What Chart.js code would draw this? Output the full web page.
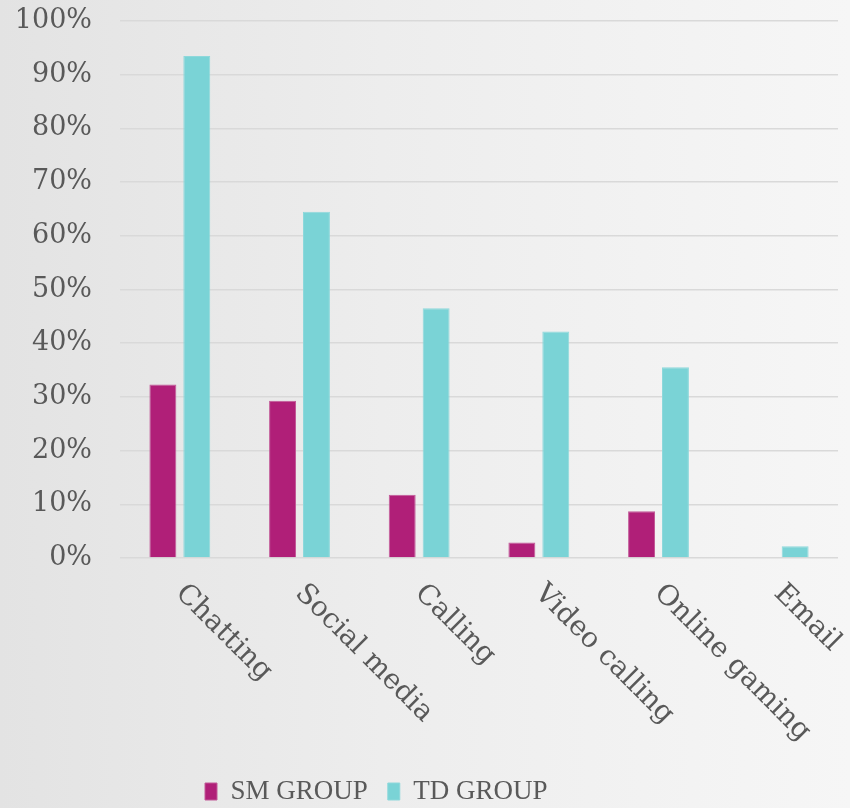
<!DOCTYPE html>
<html>
<head>
<meta charset="utf-8">
<script src="https://cdn.jsdelivr.net/npm/chart.js@4.4.0/dist/chart.umd.min.js"></script>
<style>
  html, body { margin: 0; padding: 0; }
  body { width: 850px; height: 808px; background: linear-gradient(to right, #e3e3e3 0%, #ededed 45%, #f6f6f6 100%); }
  #wrap { position: relative; width: 850px; height: 808px; }
</style>
</head>
<body>
<div id="wrap"><canvas id="c"></canvas></div>
<script>
const categories = ["Chatting", "Social media", "Calling", "Video calling", "Online gaming", "Email"];
const smGroup = [32.3, 29.3, 11.8, 2.9, 8.7, 0];
const tdGroup = [93.5, 64.5, 46.5, 42.2, 35.5, 2.2];
const yTicks = [0, 10, 20, 30, 40, 50, 60, 70, 80, 90, 100];

const serif = "'DejaVu Serif', 'Liberation Serif', serif";
const textColor = '#595959';

const rotatedLabels = {
  id: 'rotatedLabels',
  afterDraw(chart) {
    const ctx = chart.ctx;
    const xs = chart.scales.x;
    const top = chart.chartArea.bottom;
    ctx.save();
    ctx.font = "28px " + serif;
    ctx.fillStyle = textColor;
    ctx.textAlign = 'left';
    ctx.textBaseline = 'middle';
    categories.forEach((lab, i) => {
      const x = xs.getPixelForValue(i);
      ctx.save();
      ctx.translate(x, top + 31);
      ctx.rotate(Math.PI / 4);
      ctx.fillText(lab, 0, 0);
      ctx.restore();
    });
    ctx.restore();
  }
};

const placeLegend = {
  id: 'placeLegend',
  afterLayout(chart) {
    const lg = chart.legend;
    if (!lg) return;
    const p = lg.options.labels.padding;
    const w = lg.right - lg.left;
    lg.left = 205 - p;
    lg.right = lg.left + w;
    const h = lg.bottom - lg.top;
    lg.top = 758;
    lg.bottom = lg.top + h;
  }
};

new Chart(document.getElementById('c'), {
  type: 'bar',
  data: {
    labels: categories,
    datasets: [
      { label: 'SM GROUP', data: smGroup, backgroundColor: '#B01F78', borderColor: '#C25A98', borderWidth: 1,
        categoryPercentage: 0.567, barPercentage: 0.794 },
      { label: 'TD GROUP', data: tdGroup, backgroundColor: '#7AD3D6', borderColor: '#8ED8DB', borderWidth: 1,
        categoryPercentage: 0.567, barPercentage: 0.794 }
    ]
  },
  options: {
    responsive: true,
    maintainAspectRatio: false,
    animation: false,
    layout: { padding: { top: 21, right: 12, left: 10, bottom: 4 } },
    plugins: {
      tooltip: { enabled: false },
      legend: {
        position: 'bottom',
        align: 'start',
        labels: {
          font: { family: "'Liberation Serif', serif", size: 27 },
          color: textColor,
          boxWidth: 12,
          boxHeight: 17,
          padding: 20
        }
      }
    },
    scales: {
      x: {
        grid: { display: false, drawTicks: false },
        border: { display: false },
        ticks: { display: false },
        afterFit(scale) {
          scale.height = 189;
          scale.paddingLeft = 0; scale.paddingRight = 0;
        }
      },
      y: {
        min: 0, max: 100,
        afterBuildTicks(scale) { scale.ticks = yTicks.map(v => ({ value: v })); },
        grid: { color: '#d9d9d9', lineWidth: 1.5, drawTicks: false },
        border: { display: false },
        ticks: {
          padding: 28,
          color: textColor,
          font: { family: serif, size: 27 },
          callback: v => v + '%'
        },
        afterFit(scale) {
          scale.width = 110;
          scale.paddingTop = 0; scale.paddingBottom = 0;
        }
      }
    }
  },
  plugins: [rotatedLabels, placeLegend]
});
</script>
</body>
</html>
